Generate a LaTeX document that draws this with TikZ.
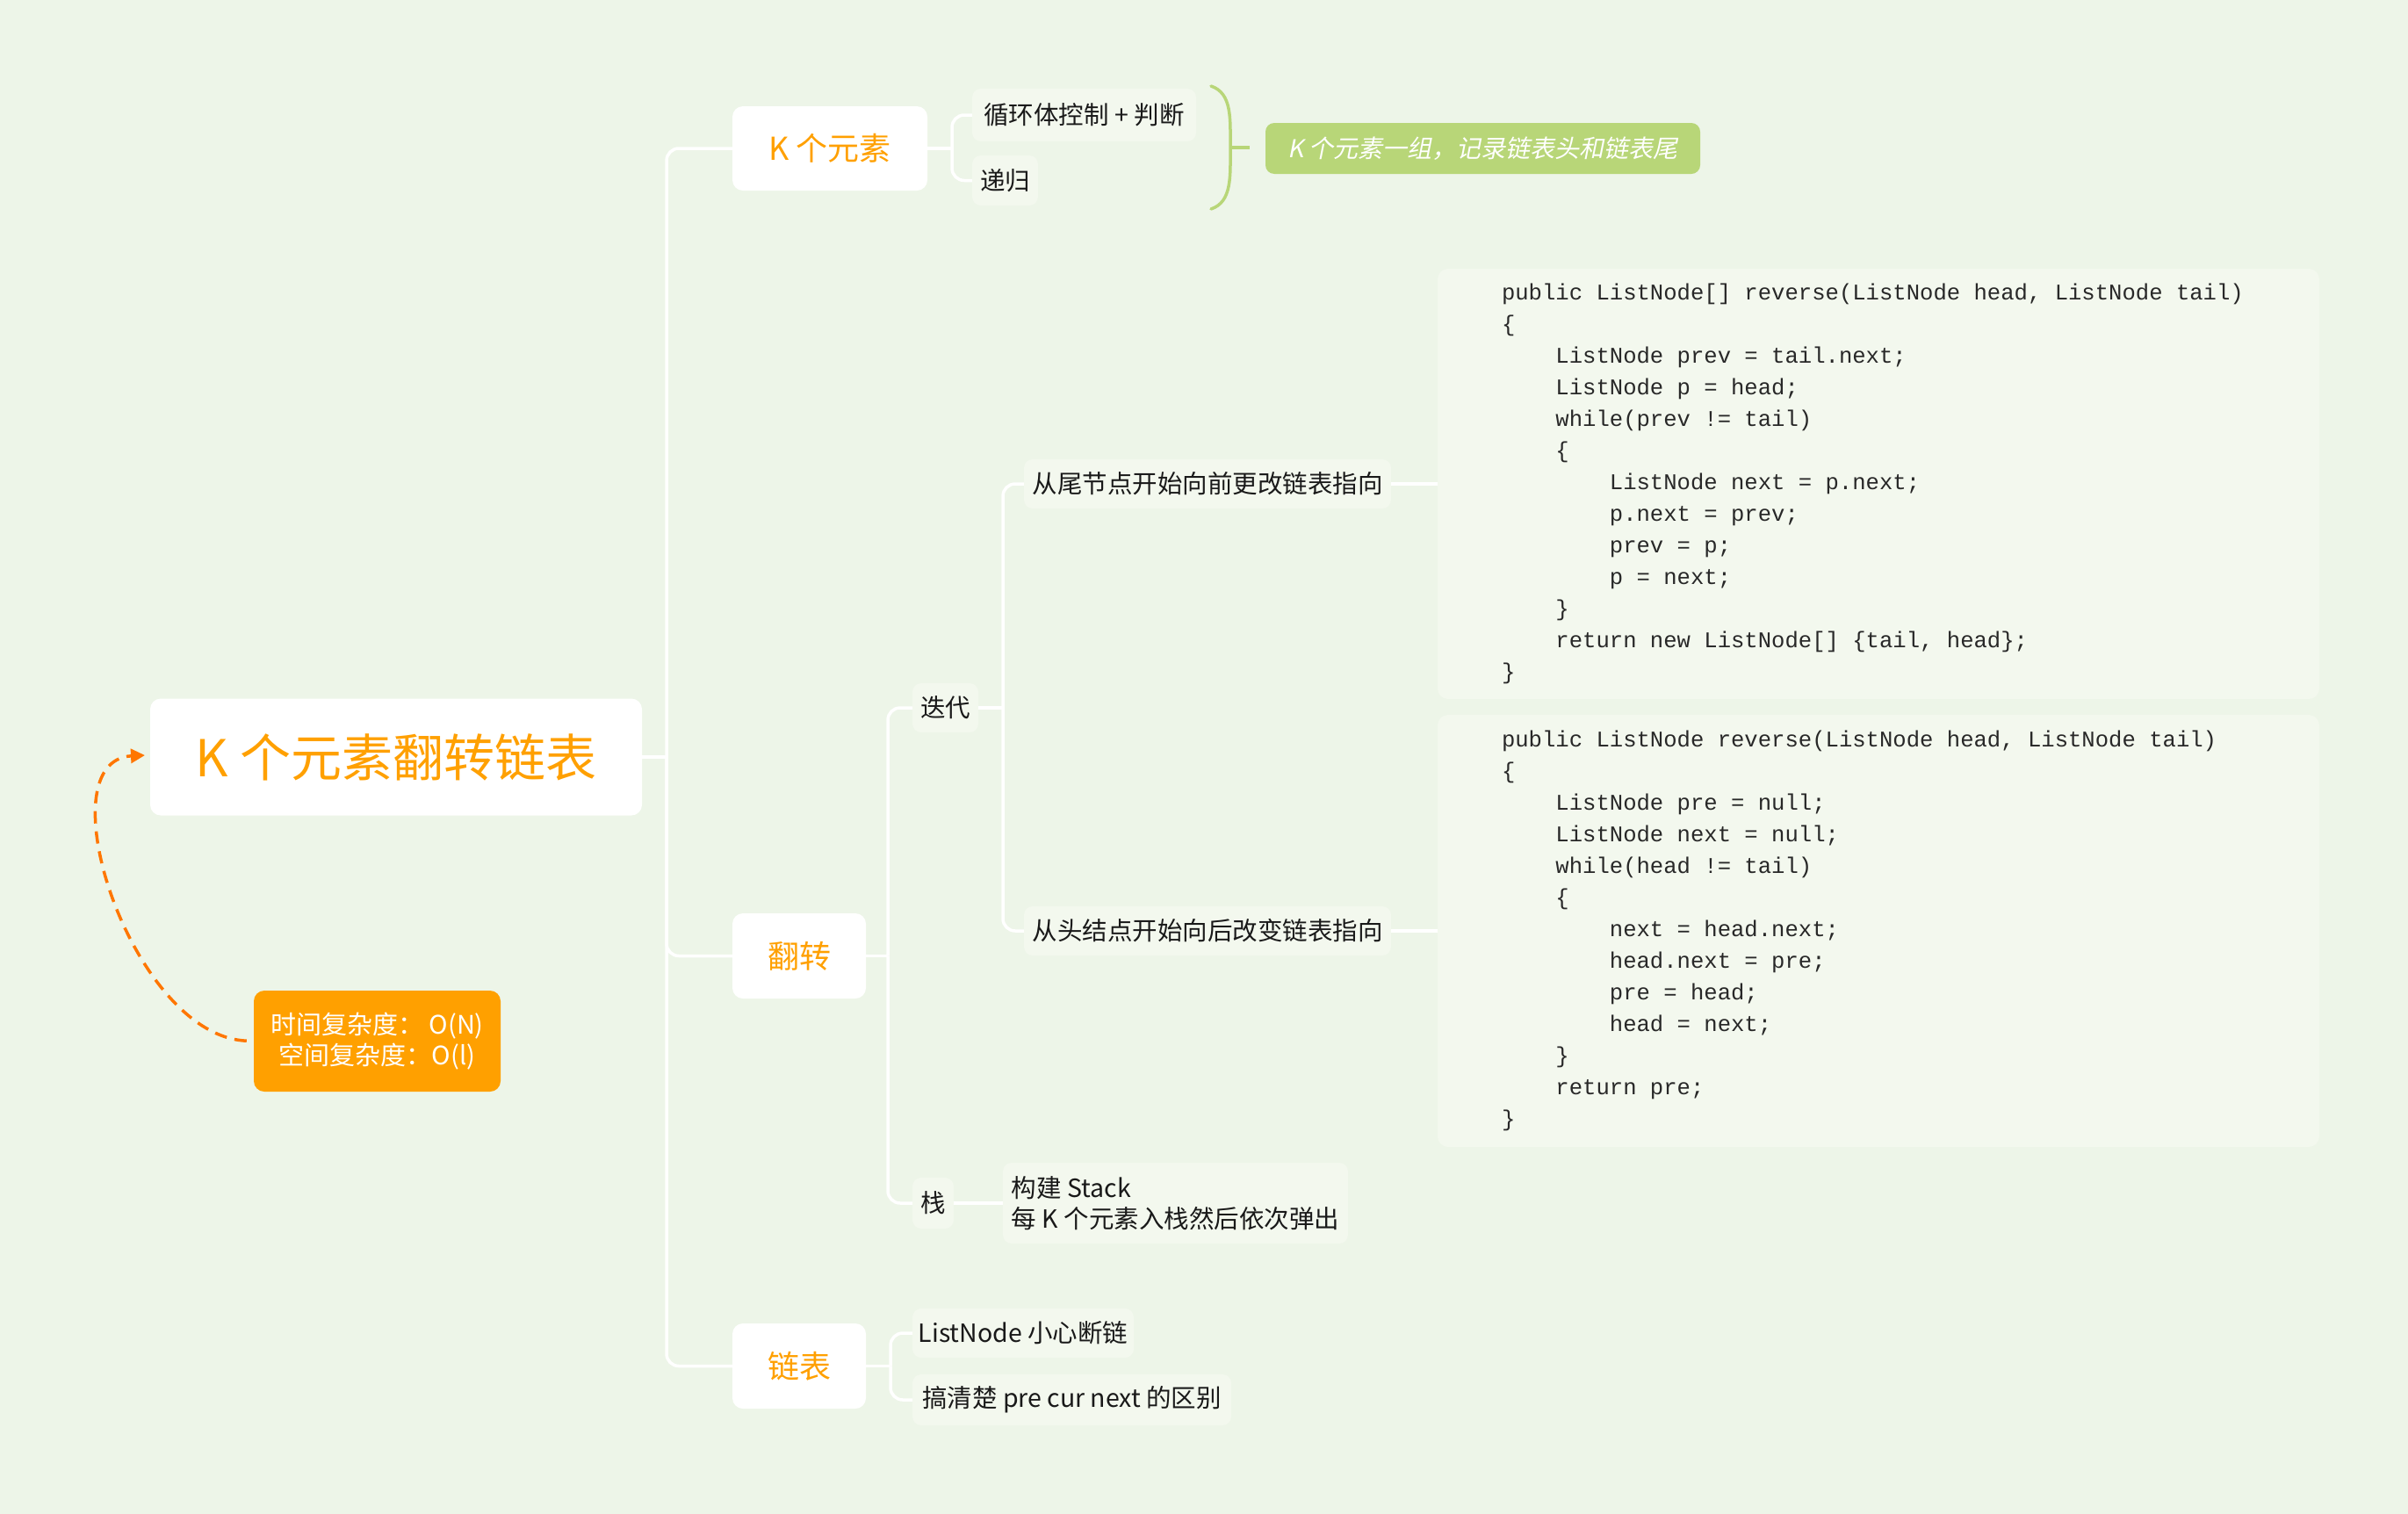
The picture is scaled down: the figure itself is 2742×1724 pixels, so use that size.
\documentclass[tikz,border=0pt]{standalone}
\usepackage{fontspec}
\setmainfont{Noto Sans CJK SC}
\newfontfamily\cjkit{Noto Sans CJK SC}[FakeSlant=0.2]
\setmonofont{Liberation Mono}
\usetikzlibrary{arrows.meta}
\definecolor{bg}{RGB}{237,245,232}
\definecolor{org}{RGB}{255,160,0}
\definecolor{darkorg}{RGB}{255,118,0}
\definecolor{leafc}{RGB}{243,248,238}
\definecolor{grn}{RGB}{184,214,120}
\definecolor{txt}{RGB}{25,25,25}
\definecolor{codec}{RGB}{40,40,40}
\newcommand\ind{\hspace*{61.44pt}}
\newcommand\codesp{\spaceskip=15.36pt\relax\xspaceskip=15.36pt\relax}
\tikzset{
  box/.style={rectangle, rounded corners=12pt, inner sep=0pt, align=center},
  mainbox/.style={box, fill=white, text=org, font=\fontsize{36}{44}\selectfont},
  leafbox/.style={box, fill=leafc, text=txt, rounded corners=10pt, font=\fontsize{28.5}{35}\selectfont},
  codebox/.style={rectangle, rounded corners=12pt, fill=leafc, text=codec, inner ysep=0pt, inner xsep=73pt, align=left, font=\ttfamily\fontsize{25.6}{36}\selectfont},
  link/.style={draw=white, line width=3.5pt, rounded corners=14pt},
}
\begin{document}
\begin{tikzpicture}[x=1pt,y=-1pt]
\fill[bg] (0,0) rectangle (2742,1724);
\useasboundingbox (0,0) rectangle (2742,1724);

% nodes
\node[box, fill=white, text=org, minimum width=560pt, minimum height=133pt, font=\fontsize{58}{66}\selectfont] (root) at (451,862) {K 个元素翻转链表};
\node[box, fill=org, text=white, minimum width=281pt, minimum height=115pt, font=\fontsize{29}{35}\selectfont] (time) at (429.5,1185.5) {时间复杂度： O(N)\\空间复杂度：O(l)};

\node[mainbox, minimum width=222pt, minimum height=96pt] (k) at (945,169) {K 个元素};
\node[mainbox, minimum width=152pt, minimum height=97pt] (flip) at (910,1088.5) {翻转};
\node[mainbox, minimum width=152pt, minimum height=97pt] (list) at (910,1555.5) {链表};

\node[leafbox, minimum width=255pt, minimum height=60pt] (loop) at (1234.5,131) {循环体控制 + 判断};
\node[leafbox, minimum width=75pt, minimum height=57pt] (rec) at (1144.5,205.5) {递归};
\node[box, fill=grn, text=white, rounded corners=10pt, minimum width=495pt, minimum height=58pt, font=\cjkit\fontsize{28}{34}\selectfont] (sum) at (1688.5,169) {K 个元素一组，记录链表头和链表尾};

\node[leafbox, minimum width=75pt, minimum height=56pt] (iter) at (1076.5,806) {迭代};
\node[leafbox, minimum width=47pt, minimum height=58pt] (stk) at (1062.5,1370) {栈};
\node[leafbox, minimum width=418pt, minimum height=56pt] (tail) at (1375,551) {从尾节点开始向前更改链表指向};
\node[leafbox, minimum width=418pt, minimum height=56pt] (head) at (1375,1060) {从头结点开始向后改变链表指向};
\node[leafbox, align=left, minimum width=393pt, minimum height=92pt] (stkleaf) at (1338.5,1370) {构建 Stack\\每 K 个元素入栈然后依次弹出};
\node[leafbox, minimum width=252pt, minimum height=56pt] (ln1) at (1165,1518) {ListNode 小心断链};
\node[leafbox, minimum width=363pt, minimum height=58pt] (ln2) at (1220.5,1594) {搞清楚 pre cur next 的区别};

\node[codebox, text width=858pt, minimum height=490pt] (code1) at (2139,551) {\codesp
public ListNode[] reverse(ListNode head, ListNode tail)\\
\{\\
\ind ListNode prev = tail.next;\\
\ind ListNode p = head;\\
\ind while(prev != tail)\\
\ind \{\\
\ind\ind ListNode next = p.next;\\
\ind\ind p.next = prev;\\
\ind\ind prev = p;\\
\ind\ind p = next;\\
\ind \}\\
\ind return new ListNode[] \{tail, head\};\\
\}};
\node[codebox, text width=858pt, minimum height=492pt] (code2) at (2139,1060) {\codesp
public ListNode reverse(ListNode head, ListNode tail)\\
\{\\
\ind ListNode pre = null;\\
\ind ListNode next = null;\\
\ind while(head != tail)\\
\ind \{\\
\ind\ind next = head.next;\\
\ind\ind head.next = pre;\\
\ind\ind pre = head;\\
\ind\ind head = next;\\
\ind \}\\
\ind return pre;\\
\}};

% connectors
\coordinate (j0) at (759,862);
\draw[link] (root.east) -- (j0);
\draw[link] (j0) |- (k.west);
\draw[link] (j0) |- (flip.west);
\draw[link] (j0) |- (list.west);

\coordinate (j1) at (1084,169);
\draw[link] (k.east) -- (j1);
\draw[link] (j1) |- (loop.west);
\draw[link] (j1) |- (rec.west);

\coordinate (j2) at (1011,1088.5);
\draw[link] (flip.east) -- (j2);
\draw[link] (j2) |- (iter.west);
\draw[link] (j2) |- (stk.west);

\coordinate (j3) at (1142,806);
\draw[link] (iter.east) -- (j3);
\draw[link] (j3) |- (tail.west);
\draw[link] (j3) |- (head.west);

\draw[link] (tail.east) -- (code1.west);
\draw[link] (head.east) -- (code2.west);
\draw[link] (stk.east) -- (stkleaf.west);

\coordinate (j4) at (1014,1555.5);
\draw[link] (list.east) -- (j4);
\draw[link] (j4) |- (ln1.west);
\draw[link] (j4) |- (ln2.west);

% brace to summary
\coordinate (br) at (1401,168);
\draw[grn, line width=3.5pt, line cap=round] (1379,98) .. controls (1403,106) and (1401,135) .. (br) .. controls (1401,201) and (1403,230) .. (1379,238);
\draw[grn, line width=3.5pt] (br) -- ++(22,0);

% dashed arrow
\coordinate (tip) at (165,860);
\draw[darkorg, line width=3.5pt, dash pattern=on 14pt off 9pt, shorten <=8pt, -{Triangle[length=16pt,width=16pt]}] (time.west) .. controls (150,1180) and (48,866) .. (tip);
\end{tikzpicture}
\end{document}
